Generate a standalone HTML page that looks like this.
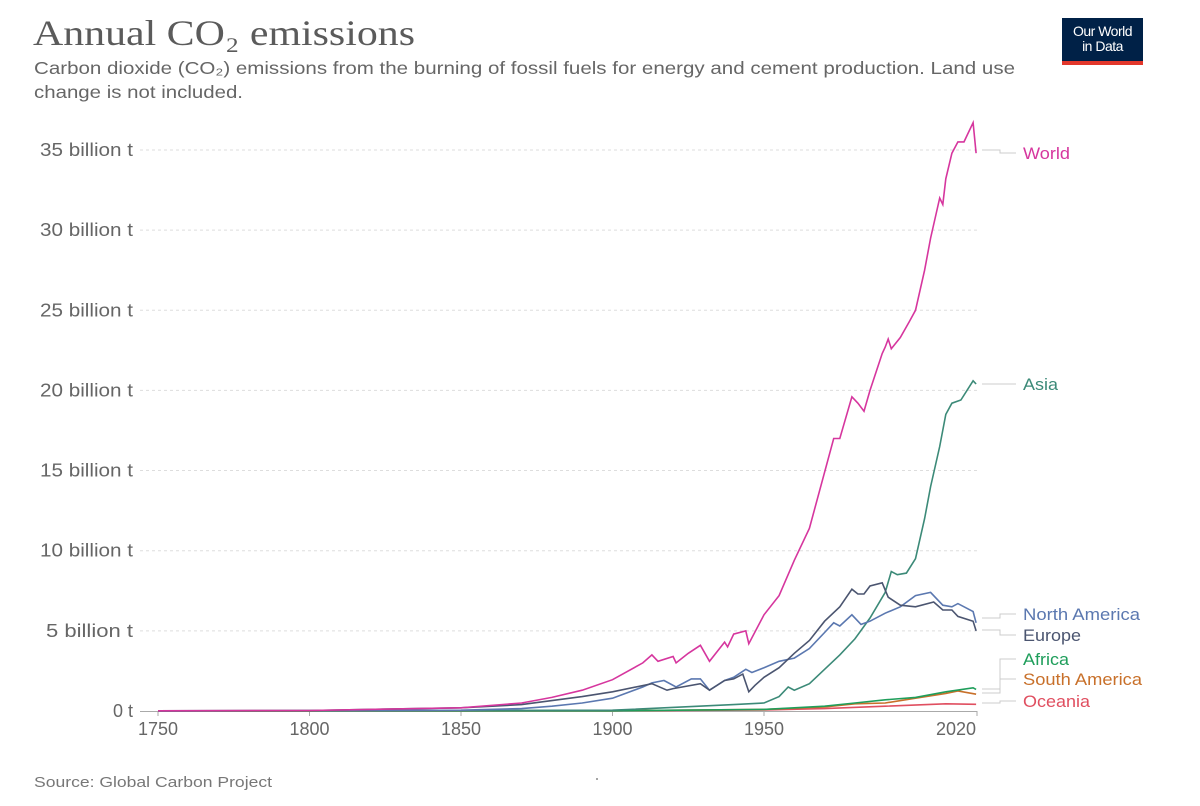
<!DOCTYPE html>
<html><head><meta charset="utf-8"><style>
body{margin:0;background:#fff;width:1200px;height:806px;overflow:hidden;position:relative;font-family:"Liberation Sans",sans-serif}
.logo{position:absolute;left:1062px;top:18px;width:81px;height:47px;background:#002147;color:#fff;font-size:14px;text-align:center;line-height:15px;box-sizing:border-box;padding-top:6px;border-bottom:4px solid #e2372b;letter-spacing:-0.5px}
</style></head><body>
<div class="logo">Our World<br>in Data</div>
<svg id="c" width="1200" height="806" style="position:absolute;left:0;top:0" font-family="Liberation Sans, sans-serif">
<text x="33" y="45" font-family="Liberation Serif, serif" font-size="36" fill="#5b5b5b" textLength="382" lengthAdjust="spacingAndGlyphs">Annual CO₂ emissions</text>
<text x="34" y="74" font-size="17.5" fill="#666" textLength="981" lengthAdjust="spacingAndGlyphs">Carbon dioxide (CO₂) emissions from the burning of fossil fuels for energy and cement production. Land use</text>
<text x="34" y="98" font-size="17.5" fill="#666" textLength="209" lengthAdjust="spacingAndGlyphs">change is not included.</text>
</svg>
<script>
var X=function(y){return 158+(y-1750)*3.03},Y=function(v){return 711-v*16.03};
var s='';
for(var i=1;i<=7;i++){var yy=Y(i*5);s+='<line x1="140" x2="977" y1="'+yy+'" y2="'+yy+'" stroke="#ddd" stroke-dasharray="3,3"/>';
var w=(i==1?87:93);
s+='<text x="'+(133-w)+'" y="'+(yy+6)+'" font-size="18" fill="#666" textLength="'+w+'" lengthAdjust="spacingAndGlyphs">'+(i*5)+' billion t</text>';}
s+='<line x1="140" x2="977" y1="711.5" y2="711.5" stroke="#aaa"/><text x="133" y="717" text-anchor="end" font-size="18" fill="#666">0 t</text>';
[1750,1800,1850,1900,1950].forEach(function(y){s+='<line x1="'+X(y)+'" x2="'+X(y)+'" y1="711" y2="716" stroke="#aaa"/><text x="'+X(y)+'" y="735" text-anchor="middle" font-size="18" fill="#666">'+y+'</text>';});
s+='<line x1="977" x2="977" y1="711" y2="716" stroke="#aaa"/><text x="976" y="735" text-anchor="end" font-size="18" fill="#666">2020</text>';
var D={
ocean:['#e04f60',[1750,0,1900,0.01,1950,0.06,1970,0.15,1990,0.3,2010,0.45,2020,0.42]],
sam:['#c8702a',[1750,0,1900,0.01,1950,0.1,1970,0.25,1980,0.45,1990,0.5,2000,0.8,2010,1.1,2014,1.25,2020,1.05]],
afr:['#1f9e5b',[1750,0,1900,0.01,1950,0.1,1970,0.3,1980,0.5,1990,0.7,2000,0.85,2010,1.2,2019,1.45,2020,1.35]],
asia:['#3c8a78',[1750,0,1900,0.05,1940,0.4,1950,0.5,1955,0.9,1958,1.5,1960,1.3,1965,1.7,1970,2.6,1975,3.5,1980,4.5,1985,5.8,1990,7.4,1992,8.7,1994,8.5,1997,8.6,2000,9.5,2003,12.0,2005,14.0,2008,16.5,2010,18.5,2012,19.2,2015,19.4,2019,20.6,2020,20.4]],
na:['#5b78b0',[1750,0,1850,0.05,1870,0.15,1880,0.3,1890,0.5,1900,0.8,1910,1.5,1913,1.75,1917,1.9,1921,1.5,1926,2.0,1929,2.0,1932,1.3,1937,1.9,1940,2.1,1944,2.6,1946,2.4,1950,2.7,1955,3.1,1960,3.3,1965,3.9,1970,4.9,1973,5.5,1975,5.3,1979,6.0,1982,5.4,1985,5.6,1990,6.1,1995,6.5,2000,7.2,2005,7.4,2009,6.6,2012,6.5,2014,6.7,2019,6.2,2020,5.5]],
eu:['#4b5570',[1750,0.01,1800,0.03,1850,0.2,1870,0.4,1890,0.9,1900,1.2,1913,1.7,1918,1.3,1920,1.4,1929,1.7,1932,1.3,1937,1.9,1940,2.0,1943,2.3,1945,1.2,1947,1.6,1950,2.1,1955,2.7,1960,3.6,1965,4.4,1970,5.6,1975,6.5,1979,7.6,1981,7.3,1983,7.3,1985,7.8,1989,8.0,1991,7.1,1995,6.6,2000,6.5,2006,6.8,2009,6.3,2012,6.3,2014,5.9,2019,5.6,2020,5.0]],
world:['#d6369e',[1750,0.01,1800,0.03,1850,0.2,1870,0.5,1880,0.85,1890,1.3,1900,1.95,1910,3.0,1913,3.5,1915,3.1,1920,3.4,1921,3.0,1925,3.6,1929,4.1,1932,3.1,1937,4.3,1938,4.0,1940,4.8,1944,5.0,1945,4.2,1950,6.0,1955,7.2,1960,9.4,1965,11.4,1970,14.9,1973,17.0,1975,17.0,1979,19.6,1981,19.2,1983,18.7,1985,20.0,1989,22.3,1990,22.7,1991,23.2,1992,22.6,1995,23.3,1998,24.3,2000,25.0,2003,27.5,2005,29.5,2008,32.0,2009,31.6,2010,33.2,2012,34.8,2014,35.5,2016,35.5,2017,35.9,2019,36.7,2020,34.8]]};
for(var k in D){var a=D[k][1],p='';for(var j=0;j<a.length;j+=2)p+=(j?'L':'M')+X(a[j]).toFixed(1)+','+Y(a[j+1]).toFixed(1);
s+='<path d="'+p+'" fill="none" stroke="'+D[k][0]+'" stroke-width="1.6"/>';}
var L=[['World','#d6369e',150,153,47],['Asia','#3c8a78',384,384,35],['North America','#5b78b0',618,614,117],['Europe','#4b5570',630,635,58],['Africa','#1f9e5b',689,659,46],['South America','#c8702a',693,679,119],['Oceania','#e04f60',703,701,67]];
L.forEach(function(l){s+='<path d="M982,'+l[2]+'H1000V'+l[3]+'H1016" fill="none" stroke="#ccc"/><text x="1023" y="'+(l[3]+6)+'" font-size="17" fill="'+l[1]+'" textLength="'+l[4]+'" lengthAdjust="spacingAndGlyphs">'+l[0]+'</text>';});
s+='<text x="34" y="787" font-size="15" fill="#777" textLength="238" lengthAdjust="spacingAndGlyphs">Source: Global Carbon Project</text><circle cx="597" cy="779" r="1" fill="#888"/>';
document.getElementById('c').insertAdjacentHTML('beforeend',s);
</script>
</body></html>
